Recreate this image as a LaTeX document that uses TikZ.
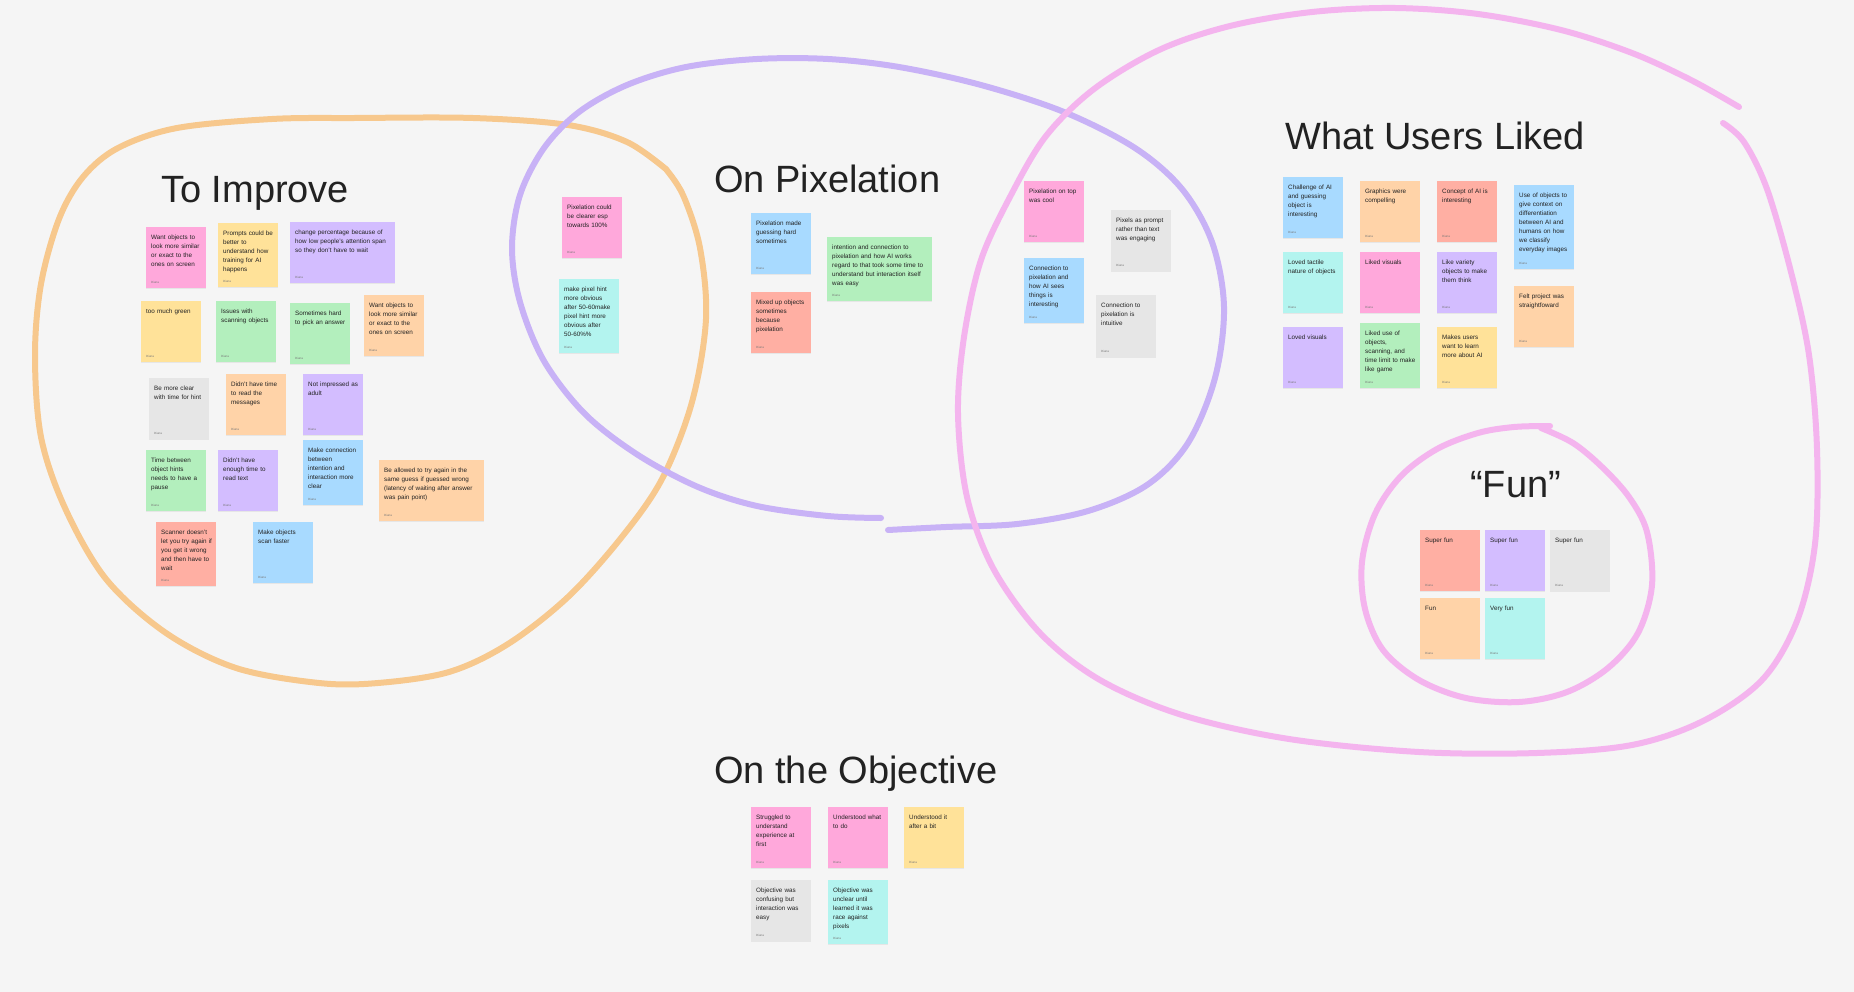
\documentclass[tikz,border=0pt]{standalone}
\usepackage{fontspec}
\setmainfont{Liberation Sans}
\usepackage{tikz}
\usetikzlibrary{shadows}
\definecolor{stPink}   {HTML}{FFA8DB}
\definecolor{stYellow} {HTML}{FFE299}
\definecolor{stViolet} {HTML}{D3BDFF}
\definecolor{stGreen}  {HTML}{B3EFBD}
\definecolor{stOrange} {HTML}{FFD3A8}
\definecolor{stGrey}   {HTML}{E6E6E6}
\definecolor{stBlue}   {HTML}{A8DAFF}
\definecolor{stRed}    {HTML}{FFAFA3}
\definecolor{stTeal}   {HTML}{B3F4EF}
\definecolor{stInk}    {RGB}{ 34, 34, 34}
\definecolor{stSig}    {RGB}{120,120,120}
\definecolor{paper}    {RGB}{245,245,245}
\definecolor{mkOrange} {RGB}{247,200,141}
\definecolor{mkViolet} {RGB}{200,178,246}
\definecolor{mkPink}   {RGB}{244,180,238}
\newcommand{\notefont}{\fontsize{6.3}{9}\selectfont}
\newcommand{\titlefont}{\fontsize{38}{44}\selectfont}

\begin{document}
\begin{tikzpicture}[
  x=1pt,y=-1pt,
  sig/.style={anchor=south west,inner sep=0pt,xshift=5pt,yshift=5pt,
              font=\fontsize{3}{3.5}\selectfont,text=stSig},
  sticky/.style={anchor=north west,fill=#1,text width=55pt,inner xsep=2.5pt,
                 inner ysep=5pt,text height=7pt,text depth=44pt,align=left,
                 font=\notefont,text=stInk,
                 execute at begin node={\leftskip=2.5pt\hyphenpenalty=10000},
                 label={[sig]south west:Diana},
                 drop shadow={shadow xshift=0pt,shadow yshift=-1.2pt,opacity=0.12}},
  wide/.style={text width=100pt},
  tall/.style={text depth=#1},
  title/.style={anchor=base west,inner sep=0pt,font=\titlefont,text=stInk},
  marker/.style={line width=6pt,line cap=round,line join=round,#1}
]
\useasboundingbox (0,0) rectangle (1854,992);
\fill[paper] (0,0) rectangle (1854,992);

% hand drawn loops
\draw[marker=mkOrange] plot[smooth,tension=0.55] coordinates {
  (667,170) (627,142) (568,125) (473,118) (355,118) (272,119) (177,128)
  (118,148) (83,177) (59,219) (41,284) (35,355) (41,437) (65,508)
  (106,579) (166,633) (236,668) (319,683) (378,683) (449,672) (508,644)
  (568,597) (621,538) (662,479) (692,402) (706,319) (700,248) (683,195)
  (665,168)};
\draw[marker=mkViolet] plot[smooth,tension=0.55] coordinates {
  (881,518) (828,516) (757,506) (698,487) (638,455) (585,414) (544,361)
  (520,302) (512,248) (520,195) (544,148) (579,112) (627,85) (686,67)
  (757,59) (828,59) (899,67) (981,85) (1064,112) (1135,148) (1182,189)
  (1212,242) (1224,307) (1215,378) (1188,443) (1147,485) (1088,511)
  (1017,524) (946,527) (888,530)};
\draw[marker=mkPink] plot[smooth,tension=0.55] coordinates {
  (1739,107) (1691,80) (1632,53) (1561,30) (1478,14) (1395,8) (1312,12)
  (1230,26) (1159,50) (1094,89) (1046,136) (1011,195) (981,260) (964,337)
  (958,414) (967,497) (993,568) (1040,633) (1100,680) (1182,715)
  (1289,739) (1419,752) (1537,753) (1632,745) (1703,721) (1762,680)
  (1797,621) (1815,544) (1817,449) (1809,355) (1791,272) (1767,189)
  (1744,142) (1723,123)};
\draw[marker=mkPink] plot[smooth,tension=0.55] coordinates {
  (1550,426) (1514,427) (1478,433) (1437,449) (1401,476) (1375,514)
  (1362,562) (1365,609) (1383,650) (1419,680) (1466,698) (1519,702)
  (1567,692) (1608,668) (1638,633) (1652,585) (1647,532) (1629,497)
  (1602,467) (1573,443) (1541,428)};

% titles
\node[title] (tImprove)   at (161,203) {To Improve};
\node[title] (tPixel)     at (714,193) {On Pixelation};
\node[title] (tLiked)     at (1285,150) {What Users Liked};
\node[title] (tFun)       at (1470,497) {“Fun”};
\node[title] (tObjective) at (714,783) {On the Objective};

% to improve
\node[sticky=stPink]          (imp1)  at (146,227) {Want objects to\\look more similar\\or exact to the\\ones on screen};
\node[sticky=stYellow,tall=47pt] (imp2) at (218,223) {Prompts could be\\better to\\understand how\\training for AI\\happens};
\node[sticky=stViolet,wide]   (imp3)  at (290,222) {change percentage because of\\how low people's attention span\\so they don't have to wait};
\node[sticky=stYellow]        (imp4)  at (141,301) {too much green};
\node[sticky=stGreen]         (imp5)  at (216,301) {Issues with\\scanning objects};
\node[sticky=stGreen]         (imp6)  at (290,303) {Sometimes hard\\to pick an answer};
\node[sticky=stOrange]        (imp7)  at (364,295) {Want objects to\\look more similar\\or exact to the\\ones on screen};
\node[sticky=stGrey]          (imp8)  at (149,378) {Be more clear\\with time for hint};
\node[sticky=stOrange]        (imp9)  at (226,374) {Didn't have time\\to read the\\messages};
\node[sticky=stViolet]        (imp10) at (303,374) {Not impressed as\\adult};
\node[sticky=stGreen]         (imp11) at (146,450) {Time between\\object hints\\needs to have a\\pause};
\node[sticky=stViolet]        (imp12) at (218,450) {Didn't have\\enough time to\\read text};
\node[sticky=stBlue,tall=48pt] (imp13) at (303,440) {Make connection\\between\\intention and\\interaction more\\clear};
\node[sticky=stOrange,wide]   (imp14) at (379,460) {Be allowed to try again in the\\same guess if guessed wrong\\(latency of waiting after answer\\was pain point)};
\node[sticky=stRed,tall=47pt] (imp15) at (156,522) {Scanner doesn't\\let you try again if\\you get it wrong\\and then have to\\wait};
\node[sticky=stBlue]          (imp16) at (253,522) {Make objects\\scan faster};

% on pixelation
\node[sticky=stPink]          (pix1) at (562,197) {Pixelation could\\be clearer esp\\towards 100\%};
\node[sticky=stTeal,tall=57pt] (pix2) at (559,279) {make pixel hint\\more obvious\\after 50-60make\\pixel hint more\\obvious after\\50-60\%\%};
\node[sticky=stBlue]          (pix3) at (751,213) {Pixelation made\\guessing hard\\sometimes};
\node[sticky=stRed]           (pix4) at (751,292) {Mixed up objects\\sometimes\\because\\pixelation};
\node[sticky=stGreen,wide,tall=47pt] (pix5) at (827,237) {intention and connection to\\pixelation and how AI works\\regard to that took some time to\\understand but interaction itself\\was easy};
\node[sticky=stPink]          (pix6) at (1024,181) {Pixelation on top\\was cool};
\node[sticky=stGrey]          (pix7) at (1111,210) {Pixels as prompt\\rather than text\\was engaging};
\node[sticky=stBlue,tall=48pt] (pix8) at (1024,258) {Connection to\\pixelation and\\how AI sees\\things is\\interesting};
\node[sticky=stGrey,tall=45pt] (pix9) at (1096,295) {Connection to\\pixelation is\\intuitive};

% what users liked
\node[sticky=stBlue]          (lik1)  at (1283,177) {Challenge of AI\\and guessing\\object is\\interesting};
\node[sticky=stOrange]        (lik2)  at (1360,181) {Graphics were\\compelling};
\node[sticky=stRed]           (lik3)  at (1437,181) {Concept of AI is\\interesting};
\node[sticky=stBlue,tall=67pt] (lik4) at (1514,185) {Use of objects to\\give context on\\differentiation\\between AI and\\humans on how\\we classify\\everyday images};
\node[sticky=stTeal]          (lik5)  at (1283,252) {Loved tactile\\nature of objects};
\node[sticky=stPink]          (lik6)  at (1360,252) {Liked visuals};
\node[sticky=stViolet]        (lik7)  at (1437,252) {Like variety\\objects to make\\them think};
\node[sticky=stOrange]        (lik8)  at (1514,286) {Felt project was\\straightfoward};
\node[sticky=stViolet]        (lik9)  at (1283,327) {Loved visuals};
\node[sticky=stGreen,tall=48pt] (lik10) at (1360,323) {Liked use of\\objects,\\scanning, and\\time limit to make\\like game};
\node[sticky=stYellow]        (lik11) at (1437,327) {Makes users\\want to learn\\more about AI};

% fun
\node[sticky=stRed]    (fun1) at (1420,530) {Super fun};
\node[sticky=stViolet] (fun2) at (1485,530) {Super fun};
\node[sticky=stGrey]   (fun3) at (1550,530) {Super fun};
\node[sticky=stOrange] (fun4) at (1420,598) {Fun};
\node[sticky=stTeal]   (fun5) at (1485,598) {Very fun};

% on the objective
\node[sticky=stPink]   (obj1) at (751,807) {Struggled to\\understand\\experience at\\first};
\node[sticky=stPink]   (obj2) at (828,807) {Understood what\\to do};
\node[sticky=stYellow] (obj3) at (904,807) {Understood it\\after a bit};
\node[sticky=stGrey]   (obj4) at (751,880) {Objective was\\confusing but\\interaction was\\easy};
\node[sticky=stTeal,tall=47pt] (obj5) at (828,880) {Objective was\\unclear until\\learned it was\\race against\\pixels};
\end{tikzpicture}
\end{document}
